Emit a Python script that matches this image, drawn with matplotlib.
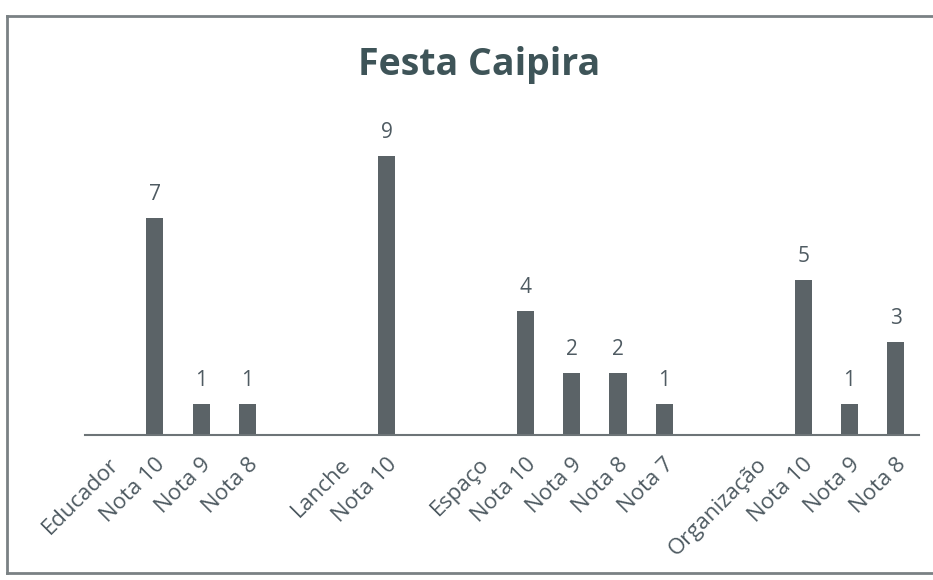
import matplotlib.pyplot as plt
import matplotlib.transforms as mtransforms
from matplotlib.lines import Line2D

# categories as they appear on the axis (blank ones are spacer rows)
categories = ["Educador", "Nota 10", "Nota 9", "Nota 8", "",
              "Lanche", "Nota 10", "",
              "Espaço", "Nota 10", "Nota 9", "Nota 8", "Nota 7", "",
              "Organização", "Nota 10", "Nota 9", "Nota 8"]
values = [None, 7, 1, 1, None,
          None, 9, None,
          None, 4, 2, 2, 1, None,
          None, 5, 1, 3]

bar_color = "#5b6367"
text_color = "#4f5b62"
title_color = "#3e5458"
font = "Open Sans"

fig = plt.figure(figsize=(9.33, 5.8), dpi=100)
ax = fig.add_axes([0.0916, 0.25, 0.8934, 0.5345])

xs = [i for i, v in enumerate(values) if v is not None]
hs = [v for v in values if v is not None]
ax.bar(xs, hs, width=0.37, color=bar_color)

for x, h in zip(xs, hs):
    ax.annotate(str(h), (x, h), textcoords="offset points", xytext=(0, 9),
                ha="center", va="bottom", fontsize=15, color=text_color,
                family=font)

ax.set_xlim(-0.5, len(categories) - 0.5)
ax.set_ylim(0, 10)
ax.set_yticks([])
ax.set_xticks(range(len(categories)))
ax.set_xticklabels(categories, rotation=45, ha="right", va="center",
                   rotation_mode="anchor", fontsize=16, color=text_color,
                   family=font)
ax.tick_params(axis="x", length=0, pad=19)
offset = mtransforms.ScaledTranslation(7 / 100, 0, fig.dpi_scale_trans)
for lbl in ax.get_xticklabels():
    lbl.set_transform(lbl.get_transform() + offset)

for side in ["top", "right", "left"]:
    ax.spines[side].set_visible(False)
ax.spines["bottom"].set_color("#6d7477")
ax.spines["bottom"].set_linewidth(1.5)

fig.text(0.513, 0.888, "Festa Caipira", ha="center", va="center",
         fontsize=27, fontweight="bold", color=title_color, family=font)

# chart frame from the scan
W, H = 933, 580
frame = dict(color="#7a8184", linewidth=2, transform=fig.transFigure)
fig.add_artist(Line2D([7 / W, 1], [1 - 16 / H, 1 - 16 / H], **frame))
fig.add_artist(Line2D([7 / W, 7 / W], [1 - 16 / H, 1 - 573 / H], **frame))
fig.add_artist(Line2D([7 / W, 1], [1 - 573 / H, 1 - 573 / H], **frame))

fig.savefig("out.png", dpi=100)
